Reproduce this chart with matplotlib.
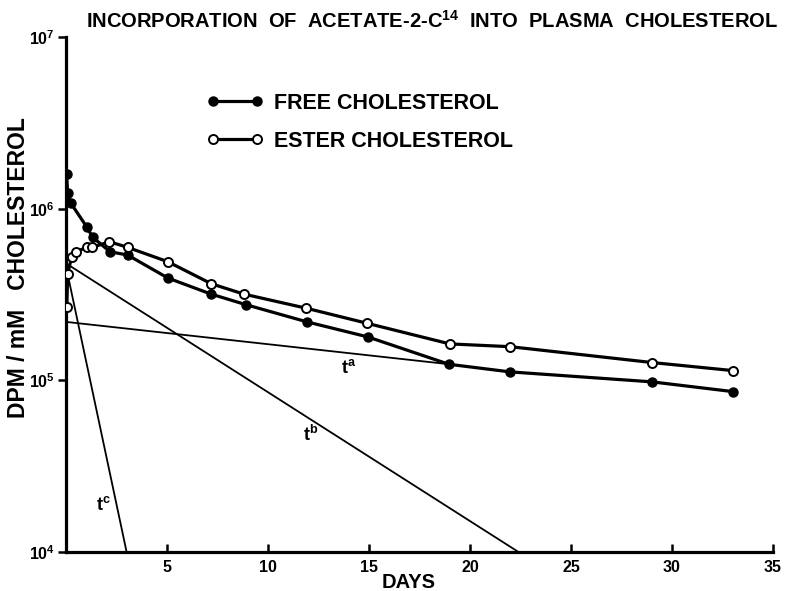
import matplotlib
matplotlib.use("Agg")
import matplotlib.pyplot as plt

plt.rcParams['font.family'] = ['Liberation Sans', 'DejaVu Sans']
plt.rcParams['font.weight'] = 'bold'
plt.rcParams['axes.labelweight'] = 'bold'
plt.rcParams['mathtext.fontset'] = 'custom'
plt.rcParams['mathtext.rm'] = 'Liberation Sans:bold'
plt.rcParams['mathtext.it'] = 'Liberation Sans:bold'
plt.rcParams['mathtext.bf'] = 'Liberation Sans:bold'

# Daten
free_days = [0.03, 0.08, 0.23, 1.02, 1.32, 2.18, 3.05, 5.05, 7.18, 8.9,
             11.93, 14.94, 18.96, 21.98, 29.0, 33.0]
free_dpm = [1.59e6, 1.23e6, 1.08e6, 7.85e5, 6.81e5, 5.61e5, 5.37e5, 3.94e5,
            3.18e5, 2.76e5, 2.19e5, 1.79e5, 1.24e5, 1.12e5, 9.8e4, 8.6e4]

ester_days = [0.04, 0.08, 0.28, 0.5, 1.02, 1.3, 2.15, 3.05, 5.04, 7.2, 8.8,
              11.9, 14.9, 19.0, 22.0, 29.0, 33.0]
ester_dpm = [2.68e5, 4.16e5, 5.25e5, 5.61e5, 5.95e5, 5.95e5, 6.42e5, 5.95e5,
             4.91e5, 3.65e5, 3.18e5, 2.63e5, 2.15e5, 1.63e5, 1.57e5, 1.27e5, 1.14e5]

# Zerlegung in Komponenten
ta_days, ta_dpm = [0.0, 19.0], [2.19e5, 1.24e5]
tb_days, tb_dpm = [0.0, 22.4], [4.8e5, 1.0e4]
tc_days, tc_dpm = [0.0, 3.0], [4.6e5, 1.0e4]

xticks = [5, 10, 15, 20, 25, 30, 35]
yticks = [1e4, 1e5, 1e6, 1e7]
ytick_labels = [r'$10^{4}$', r'$10^{5}$', r'$10^{6}$', r'$10^{7}$']

fig = plt.figure(figsize=(7.85, 5.91), dpi=100)
ax = fig.add_axes([0.0841, 0.066, 0.9006, 0.8714])

ax.plot(free_days, free_dpm, '-o', color='black', lw=2.3, ms=6.5,
        label='FREE CHOLESTEROL', zorder=4)
ax.plot(ester_days, ester_dpm, '-o', color='black', lw=2.3, ms=6.5,
        mfc='white', mec='black', mew=1.4, label='ESTER CHOLESTEROL', zorder=5)

ax.plot(ta_days, ta_dpm, '-', color='black', lw=1.3, zorder=3)
ax.plot(tb_days, tb_dpm, '-', color='black', lw=1.3, zorder=3)
ax.plot(tc_days, tc_dpm, '-', color='black', lw=1.3, zorder=3)

ax.text(14.0, 1.18e5, r't$^{a}$', fontsize=13, ha='center', va='center')
ax.text(12.1, 4.8e4, r't$^{b}$', fontsize=13, ha='center', va='center')
ax.text(1.85, 1.88e4, r't$^{c}$', fontsize=13, ha='center', va='center')

ax.set_yscale('log')
ax.set_xlim(0, 35)
ax.set_ylim(1e4, 1e7)
ax.set_xticks(xticks)
ax.set_yticks(yticks)
ax.set_yticklabels(ytick_labels)
ax.minorticks_off()
ax.tick_params(axis='x', direction='in', length=6, width=1.8, pad=6, labelsize=11.5)
ax.tick_params(axis='y', direction='out', length=6, width=1.8, pad=2, labelsize=11.5)

for s in ['top', 'right']:
    ax.spines[s].set_visible(False)
for s in ['left', 'bottom']:
    ax.spines[s].set_linewidth(2.3)

ax.set_xlabel('DAYS', fontsize=14.5, fontweight='bold')
ax.xaxis.set_label_coords(0.485, -0.041)
fig.text(0.023, 0.548, 'DPM / mM   CHOLESTEROL', rotation=90, fontsize=16.5,
         ha='center', va='center')
fig.text(0.55, 0.965, 'INCORPORATION  OF  ACETATE-2-C$^{14}$  INTO  PLASMA  CHOLESTEROL',
         fontsize=14.5, ha='center', va='center')

ax.legend(loc='upper left', bbox_to_anchor=(0.2637, 0.843), bbox_transform=fig.transFigure,
          frameon=False, numpoints=2, handlelength=2.6, handletextpad=0.5,
          labelspacing=0.8, borderpad=0, borderaxespad=0, fontsize=15.5)

fig.savefig('out.png', dpi=100)
